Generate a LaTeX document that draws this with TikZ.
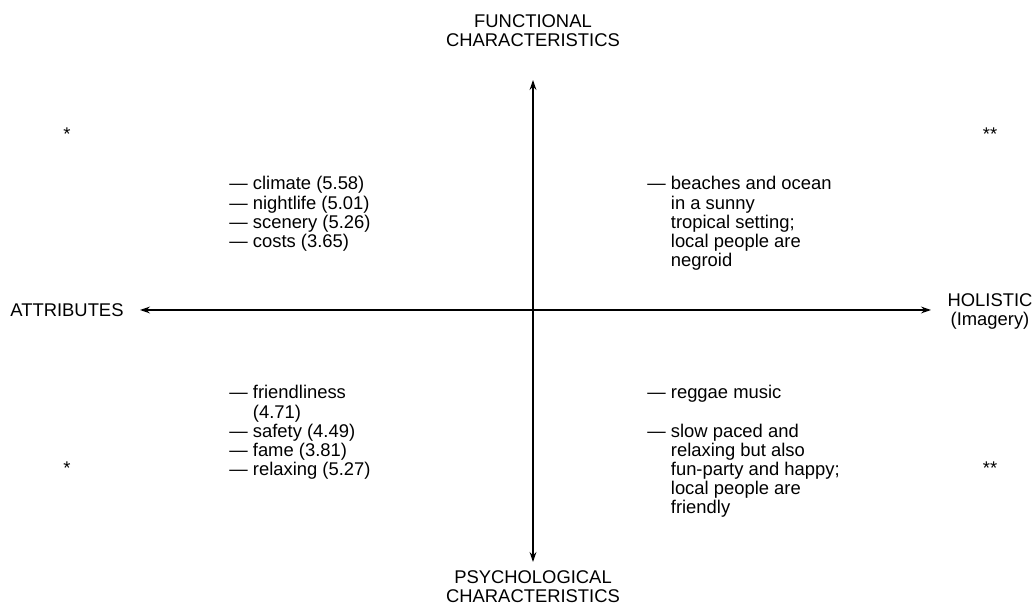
\documentclass[tikz,border=0pt]{standalone}
\usepackage{fontspec}
\setmainfont{Liberation Sans}
\usepackage{tikz}
\usetikzlibrary{arrows.meta, positioning}

\begin{document}
\begin{tikzpicture}[x=0.5pt, y=-0.5pt,
    every node/.style={inner sep=0pt, font=\fontsize{9.2}{9.5}\selectfont},
    axis/.style={line width=0.85pt, {Stealth[length=5pt,width=3.4pt]}-{Stealth[length=5pt,width=3.4pt]}},
    label/.style={align=center},
    star/.style={anchor=center}]
\useasboundingbox (0,0) rectangle (1035,608);
%
% axes
\coordinate (ytop) at (533,80);
\coordinate (ybot) at (533,562);
\coordinate (xleft) at (140,310);
\coordinate (xright) at (931,310);
\draw[axis] (ytop) -- (ybot);
\draw[axis] (xleft) -- (xright);
%
% axis labels
\node[label] (func) at (533,31) {FUNCTIONAL\\CHARACTERISTICS};
\node[label] (psych) at (533,587) {PSYCHOLOGICAL\\CHARACTERISTICS};
\node[anchor=west] (attr) at (10,310) {ATTRIBUTES};
\node[label] (holis) at (990,311) {HOLISTIC\\(Imagery)};
%
% stars
\node[star] (s1) at (67,134) {*};
\node[star] (s2) at (990,134) {**};
\node[star] (s3) at (67,468) {*};
\node[star] (s4) at (990,468) {**};
%
% quadrants
\node[anchor=base west] (q1) at (229,190) {\begin{tabular}[t]{@{}l@{ }l@{}}
— & climate (5.58)\\
— & nightlife (5.01)\\
— & scenery (5.26)\\
— & costs (3.65)
\end{tabular}};
\node[anchor=base west] (q2) at (647,190) {\begin{tabular}[t]{@{}l@{ }l@{}}
— & beaches and ocean\\
  & in a sunny\\
  & tropical setting;\\
  & local people are\\
  & negroid
\end{tabular}};
\node[anchor=base west] (q3) at (229,399) {\begin{tabular}[t]{@{}l@{ }l@{}}
— & friendliness\\
  & (4.71)\\
— & safety (4.49)\\
— & fame (3.81)\\
— & relaxing (5.27)
\end{tabular}};
\node[anchor=base west] (q4) at (647,399) {\begin{tabular}[t]{@{}l@{ }l@{}}
— & reggae music\\[9.5pt]
— & slow paced and\\
  & relaxing but also\\
  & fun-party and happy;\\
  & local people are\\
  & friendly
\end{tabular}};
%
\end{tikzpicture}
\end{document}
